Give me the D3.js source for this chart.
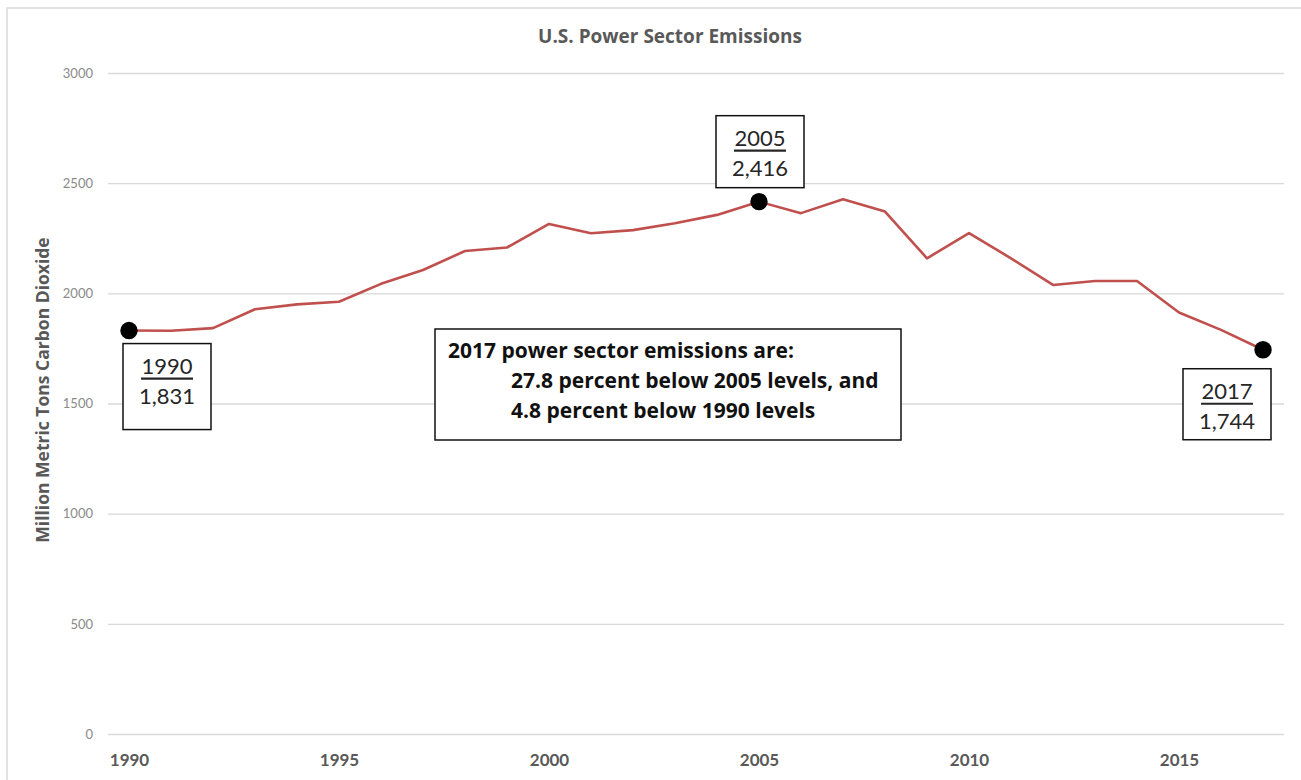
<!DOCTYPE html>
<html>
<head>
<meta charset="utf-8">
<script src="https://cdn.jsdelivr.net/npm/d3@7"></script>
<style>
  body { margin: 0; background: #fff; }
  svg { display: block; font-family: Lato, "Open Sans", sans-serif; }
</style>
</head>
<body>
<div id="chart"></div>
<script>
const years = [1990, 1991, 1992, 1993, 1994, 1995, 1996, 1997, 1998, 1999,
               2000, 2001, 2002, 2003, 2004, 2005, 2006, 2007, 2008, 2009,
               2010, 2011, 2012, 2013, 2014, 2015, 2016, 2017];
const emissions = [1831, 1830, 1842, 1928, 1950, 1962, 2043, 2106, 2192, 2208,
                   2315, 2273, 2287, 2318, 2356, 2416, 2364, 2427, 2371, 2159,
                   2273, 2159, 2038, 2056, 2056, 1913, 1834, 1744];
const yTicks = [0, 500, 1000, 1500, 2000, 2500, 3000];
const xTicks = [1990, 1995, 2000, 2005, 2010, 2015];
const highlightYears = [1990, 2005, 2017];
const noteLines = ["2017 power sector emissions are:",
                   "27.8 percent below 2005 levels, and",
                   "4.8 percent below 1990 levels"];

const W = 1301, H = 780;
const plot = { left: 108, right: 1284, top: 73, bottom: 734 };

const data = years.map((y, i) => ({ year: y, value: emissions[i] }));

const svg = d3.select("#chart").append("svg")
    .attr("width", W)
    .attr("height", H);

// chart area frame (right/bottom edges fall outside the picture)
svg.append("rect")
    .attr("x", 7).attr("y", 8)
    .attr("width", W + 20).attr("height", H + 20)
    .attr("fill", "none")
    .attr("stroke", "#d9d9d9")
    .attr("stroke-width", 1.5);

const x = d3.scaleLinear()
    .domain([1990, 2017])
    .range([129, 1263]);

const y = d3.scaleLinear()
    .domain([0, 3000])
    .range([plot.bottom, plot.top]);

// y axis + gridlines
const yAxis = d3.axisLeft(y)
    .tickValues(yTicks)
    .tickSize(-(plot.right - plot.left))
    .tickPadding(15)
    .tickFormat(d3.format("d"));

const gy = svg.append("g")
    .attr("transform", `translate(${plot.left},0)`)
    .call(yAxis);
gy.select(".domain").remove();
gy.selectAll(".tick line")
    .attr("stroke", "#d9d9d9")
    .attr("stroke-width", 1.4);
gy.selectAll(".tick text")
    .attr("fill", "#8a8a8a")
    .style("font-size", "13px")
    .style("font-family", "Lato, sans-serif");

// x axis labels
const xAxis = d3.axisBottom(x)
    .tickValues(xTicks)
    .tickSize(0)
    .tickPadding(20)
    .tickFormat(d3.format("d"));

const gx = svg.append("g")
    .attr("transform", `translate(0,${plot.bottom})`)
    .call(xAxis);
gx.select(".domain").remove();
gx.selectAll(".tick text")
    .attr("fill", "#595959")
    .style("font-size", "17px")
    .style("font-weight", "bold")
    .style("font-family", "Lato, sans-serif");

// title
svg.append("text")
    .attr("x", 670)
    .attr("y", 43)
    .attr("text-anchor", "middle")
    .attr("fill", "#595959")
    .style("font-family", "'Open Sans', sans-serif")
    .style("font-size", "19px")
    .style("font-weight", "bold")
    .text("U.S. Power Sector Emissions");

// y axis title
svg.append("text")
    .attr("transform", `translate(49,${390}) rotate(-90)`)
    .attr("text-anchor", "middle")
    .attr("fill", "#595959")
    .style("font-family", "'Open Sans', sans-serif")
    .style("font-size", "17.5px")
    .style("font-weight", "bold")
    .text("Million Metric Tons Carbon Dioxide");

// line
const line = d3.line()
    .x(d => x(d.year))
    .y(d => y(d.value));

svg.append("path")
    .datum(data)
    .attr("fill", "none")
    .attr("stroke", "#c0504d")
    .attr("stroke-width", 2.6)
    .attr("stroke-linejoin", "round")
    .attr("d", line);

// highlighted points
const highlights = data.filter(d => highlightYears.includes(d.year));

svg.selectAll(".dot")
    .data(highlights)
    .enter()
    .append("circle")
    .attr("class", "dot")
    .attr("cx", d => x(d.year))
    .attr("cy", d => y(d.value))
    .attr("r", 8.7)
    .attr("fill", "#000");

// callout boxes: offset of box centre / top from the point, and box height
const callout = {
    1990: { dx: 38, dy: 13, h: 86 },
    2005: { dx: 1, dy: -86, h: 72 },
    2017: { dx: -36, dy: 19, h: 71 }
};
const boxW = 88;

const boxes = svg.selectAll(".callout")
    .data(highlights)
    .enter()
    .append("g")
    .attr("class", "callout")
    .attr("transform", d => {
        const c = callout[d.year];
        return `translate(${x(d.year) + c.dx},${y(d.value) + c.dy})`;
    });

boxes.append("rect")
    .attr("x", -boxW / 2)
    .attr("y", 0)
    .attr("width", boxW)
    .attr("height", d => callout[d.year].h)
    .attr("fill", "#fff")
    .attr("stroke", "#111")
    .attr("stroke-width", 1.5);

boxes.append("text")
    .attr("x", 0)
    .attr("y", 30)
    .attr("text-anchor", "middle")
    .attr("fill", "#262626")
    .style("font-size", "22px")
    .text(d => d.year);

boxes.append("line")
    .attr("x1", -26).attr("x2", 26)
    .attr("y1", 35).attr("y2", 35)
    .attr("stroke", "#262626")
    .attr("stroke-width", 2.2);

boxes.append("text")
    .attr("x", 0)
    .attr("y", 60)
    .attr("text-anchor", "middle")
    .attr("fill", "#262626")
    .style("font-size", "22px")
    .text(d => d3.format(",")(d.value));

// note box
const note = svg.append("g").attr("transform", "translate(435,329)");
note.append("rect")
    .attr("width", 466)
    .attr("height", 111)
    .attr("fill", "#fff")
    .attr("stroke", "#111")
    .attr("stroke-width", 1.5);

note.selectAll("text")
    .data(noteLines)
    .enter()
    .append("text")
    .attr("x", (d, i) => i === 0 ? 13 : 76)
    .attr("y", (d, i) => 29 + i * 30)
    .attr("fill", "#111")
    .style("font-family", "'Open Sans', sans-serif")
    .style("font-size", "21px")
    .style("font-weight", "bold")
    .text(d => d);
</script>
</body>
</html>
